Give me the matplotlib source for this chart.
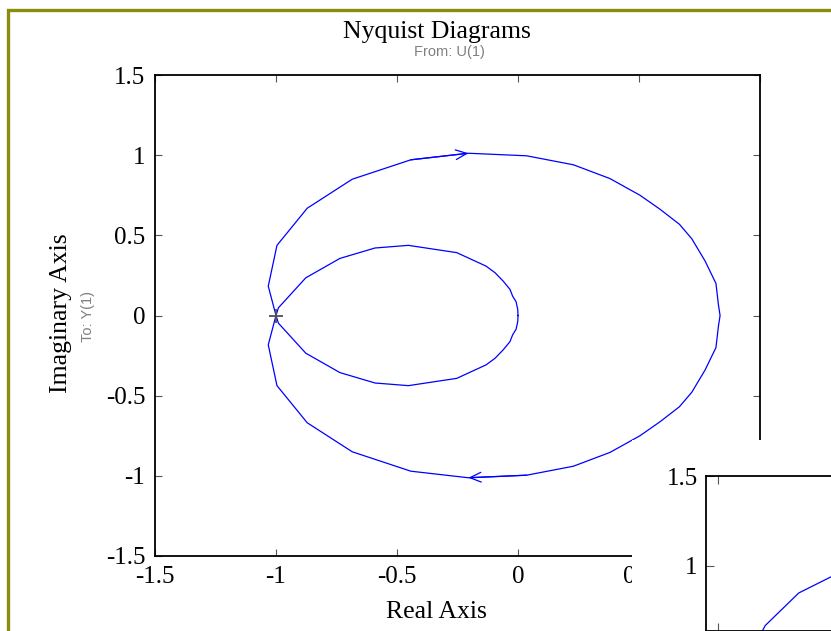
import matplotlib
matplotlib.use("Agg")
import matplotlib.pyplot as plt
from matplotlib.patches import Rectangle
import numpy as np

# ---- data: positive-frequency branch of the Nyquist curve ----
# inner loop, from the origin back to the critical point
inner_re = [0.0, -0.001, -0.008, -0.022, -0.033, -0.061, -0.095, -0.132, -0.253,
            -0.453, -0.591, -0.736, -0.877, -0.99, -1.0]
inner_im = [0.0, 0.0375, 0.086, 0.12, 0.1625, 0.214, 0.267, 0.308, 0.392,
            0.4375, 0.421, 0.356, 0.235, 0.048, 0.0]
# outer loop, from the critical point around to the positive real axis
outer_re = [-1.0, -1.032, -0.996, -0.871, -0.685, -0.443, -0.205, 0.036, 0.229,
            0.38, 0.504, 0.587, 0.667, 0.718, 0.773, 0.818, 0.828, 0.835]
outer_im = [0.0, 0.183, 0.4375, 0.669, 0.85, 0.971, 1.012, 0.996, 0.94,
            0.854, 0.75, 0.6625, 0.569, 0.479, 0.34, 0.2, 0.069, 0.0]

critical_point = (-1.0, 0.0)

x_ticks = [-1.5, -1.0, -0.5, 0.0, 0.5, 1.0]
x_tick_labels = ["-1.5", "-1", "-0.5", "0", "0.5", "1"]
y_ticks = [-1.5, -1.0, -0.5, 0.0, 0.5, 1.0, 1.5]
y_tick_labels = ["-1.5", "-1", "-0.5", "0", "0.5", "1", "1.5"]
inset_y_ticks = [1.0, 1.5]
inset_y_tick_labels = ["1", "1.5"]

title = "Nyquist Diagrams"
from_label = "From: U(1)"
to_label = "To: Y(1)"
x_label = "Real Axis"
y_label = "Imaginary Axis"

# ---- style ----
W, H = 831, 631
DPI = 100
LINE = "#0000ff"
SERIF = "Liberation Serif"
SANS = "Liberation Sans"
GRAY = "#808080"
BORDER = "#8c8c0c"
plt.rcParams["axes.unicode_minus"] = False


def fx(px):
    return px / W


def fy(py):
    return 1 - py / H


# full closed contour: positive branch, then its mirror image traversed back
up_re = np.array(inner_re + outer_re[1:])
up_im = np.array(inner_im + outer_im[1:])
full_re = np.concatenate([up_re, up_re[::-1][1:]])
full_im = np.concatenate([up_im, -up_im[::-1][1:]])

fig = plt.figure(figsize=(W / DPI, H / DPI), dpi=DPI, facecolor="white")

# main axes
ax = fig.add_axes([fx(155), fy(556), fx(760) - fx(155), fy(75) - fy(556)], zorder=0)
ax.plot(full_re, full_im, color=LINE, lw=0.9, solid_joinstyle="miter")
ax.plot(*critical_point, marker="+", color="#505050", markersize=10, mew=1.3)

# direction arrows on the outer loop
i_tip = 6
ax.annotate("", xy=(outer_re[i_tip], outer_im[i_tip]),
            xytext=(outer_re[i_tip - 1], outer_im[i_tip - 1]),
            arrowprops=dict(arrowstyle="->,head_length=0.8,head_width=0.35", color=LINE,
                            lw=0.9, shrinkA=0, shrinkB=0, mutation_scale=10))
ax.annotate("", xy=(outer_re[i_tip], -outer_im[i_tip]),
            xytext=(outer_re[i_tip + 1], -outer_im[i_tip + 1]),
            arrowprops=dict(arrowstyle="->,head_length=0.8,head_width=0.35", color=LINE,
                            lw=0.9, shrinkA=0, shrinkB=0, mutation_scale=10))

ax.set_xlim(-1.5, 1.0)
ax.set_ylim(-1.5, 1.5)
ax.set_xticks(x_ticks)
ax.set_xticklabels(x_tick_labels)
ax.set_yticks(y_ticks)
ax.set_yticklabels(y_tick_labels)
ax.tick_params(direction="in", length=5, width=0.8, color="#555555",
               top=True, right=True, labelsize=18, pad=7)
for lab in ax.get_xticklabels() + ax.get_yticklabels():
    lab.set_fontfamily(SERIF)
for sp in ax.spines.values():
    sp.set_linewidth(1.3)
    sp.set_color("black")

# figure texts
fig.text(fx(437), fy(32), title, ha="center", va="center", fontsize=18.5, family=SERIF)
fig.text(fx(449), fy(52), from_label, ha="center", va="center", fontsize=10.5,
         family=SANS, color=GRAY)
fig.text(fx(436), fy(612), x_label, ha="center", va="center", fontsize=18.5, family=SERIF)
fig.text(fx(61), fy(313), y_label, ha="center", va="center", rotation=90,
         fontsize=18.5, family=SERIF)
fig.text(fx(88), fy(316), to_label, ha="center", va="center", rotation=90,
         fontsize=10.5, family=SANS, color=GRAY)

# white panel behind the zoomed view
fig.patches.append(Rectangle((fx(632), 0), 1 - fx(632), fy(440), transform=fig.transFigure,
                             facecolor="white", edgecolor="none", zorder=1))

# zoomed view of the upper-left part of the contour
ins = fig.add_axes([fx(706), 0, 1.0, fy(476)], zorder=2)
ins.plot(full_re, full_im, color=LINE, lw=0.9)
ins.set_ylim(1.5 - 155 / 180, 1.5)
ins.set_xlim(-1.2, -1.2 + W / 180)
ins.set_yticks(inset_y_ticks)
ins.set_yticklabels(inset_y_tick_labels)
ins.set_xticks([-1.135])
ins.tick_params(direction="in", length=6, width=0.8, color="#555555",
                top=True, right=False, labelbottom=False, labelsize=18, pad=6)
for lab in ins.get_yticklabels():
    lab.set_fontfamily(SERIF)
for sp in ins.spines.values():
    sp.set_linewidth(1.3)
    sp.set_color("black")

# olive frame
fig.patches.append(Rectangle((fx(7.5), -0.1), 1.2, fy(9.5) + 0.1, transform=fig.transFigure,
                             facecolor="none", edgecolor=BORDER, lw=2.4, zorder=5))

fig.savefig("out.png", dpi=DPI, facecolor="white")
